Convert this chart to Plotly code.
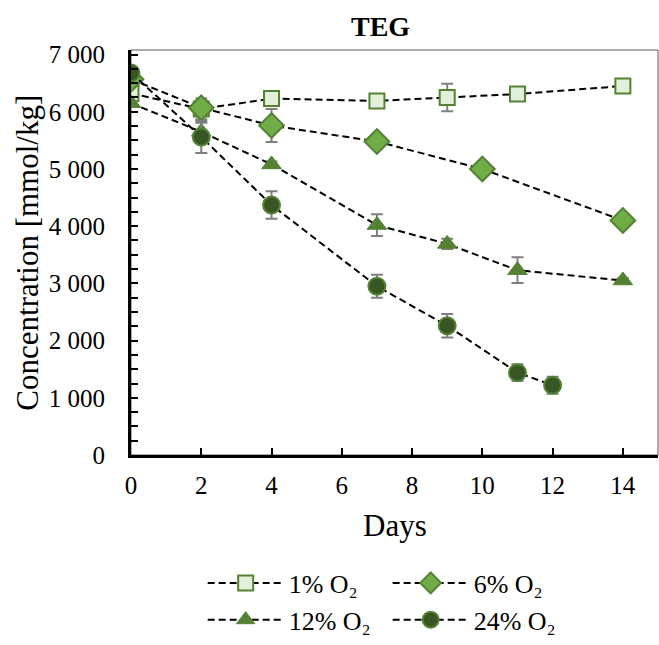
import plotly.graph_objects as go

names = ["1% O₂", "6% O₂", "12% O₂", "24% O₂"]

days_1 = [0, 2, 4, 7, 9, 11, 14]
conc_1 = [6320, 6050, 6230, 6190, 6250, 6310, 6450]
err_1 = [40, 180, 60, 40, 240, 40, 40]

days_6 = [0, 2, 4, 7, 10, 14]
conc_6 = [6570, 6070, 5760, 5480, 5000, 4100]
err_6 = [60, 60, 290, 120, 40, 60]

days_12 = [0, 2, 4, 7, 9, 11, 14]
conc_12 = [6150, 5650, 5080, 4020, 3690, 3230, 3050]
err_12 = [40, 160, 50, 190, 90, 225, 40]

days_24 = [0, 2, 4, 7, 9, 11, 12]
conc_24 = [6680, 5560, 4370, 2950, 2260, 1440, 1220]
err_24 = [60, 280, 240, 200, 205, 145, 150]

styles = [
    dict(symbol="square", size=15, color="#e2efda", line=dict(color="#548235", width=2)),
    dict(symbol="diamond", size=19, color="#70ad47", line=dict(color="#548235", width=2)),
    dict(symbol="triangle-up", size=17, color="#548235", line=dict(color="#548235", width=1)),
    dict(symbol="circle", size=17, color="#375623", line=dict(color="#548235", width=2)),
]

series = [(days_1, conc_1, err_1), (days_6, conc_6, err_6),
          (days_12, conc_12, err_12), (days_24, conc_24, err_24)]

FONT = "Liberation Serif"
fig = go.Figure()
for name, (x, y, e), mk in zip(names, series, styles):
    fig.add_trace(go.Scatter(
        x=x, y=y, name=name, mode="lines+markers",
        line=dict(color="black", width=2, dash="7px,4px"),
        marker=mk,
        error_y=dict(type="data", array=e, visible=True, color="#7f7f7f", thickness=2, width=6),
    ))

fig.update_layout(
    width=659, height=645,
    margin=dict(l=131, r=1, t=50, b=180),
    plot_bgcolor="white", paper_bgcolor="white",
    font=dict(family=FONT, size=25, color="black"),
    separators=". ",
    showlegend=True,
    legend=dict(orientation="h", x=0.136, xanchor="left", y=-0.258, yanchor="top",
                entrywidth=94, entrywidthmode="pixels", itemwidth=76,
                font=dict(family=FONT, size=26), tracegroupgap=0, bgcolor="rgba(0,0,0,0)"),
    annotations=[
        dict(text="<b>TEG</b>", x=0.474, y=1.0, xref="paper", yref="paper",
             xanchor="center", yanchor="bottom", yshift=6, showarrow=False,
             font=dict(family=FONT, size=28)),
        dict(text="Concentration [mmol/kg]", x=-0.197, y=0.5, xref="paper", yref="paper",
             xanchor="center", yanchor="middle", textangle=-90, showarrow=False,
             font=dict(family=FONT, size=31)),
        dict(text="Days", x=0.5, y=-0.1735, xref="paper", yref="paper",
             xanchor="center", yanchor="middle", showarrow=False,
             font=dict(family=FONT, size=31)),
    ],
    shapes=[dict(type="rect", xref="paper", yref="paper", x0=0, y0=0, x1=1, y1=1,
                 line=dict(color="#595959", width=1), layer="below")],
)

fig.update_xaxes(range=[0, 15], tick0=0, dtick=2, ticks="inside", ticklen=7, tickwidth=2,
                 tickcolor="black", showline=True, linecolor="black", linewidth=3,
                 showgrid=False, zeroline=False, automargin=False,
                 tickfont=dict(family=FONT, size=25), ticklabelstandoff=6)
fig.update_yaxes(range=[0, 7080], tick0=0, dtick=1000, ticks="inside", ticklen=7, tickwidth=2,
                 tickcolor="black", showline=True, linecolor="black", linewidth=3,
                 showgrid=False, zeroline=False, tickformat=",d", automargin=False,
                 minor=dict(dtick=250, ticks="inside", ticklen=7, tickwidth=2, tickcolor="black", showgrid=False),
                 tickfont=dict(family=FONT, size=25), ticklabelstandoff=18)

fig.write_html(
    "out.html",
    config={"displayModeBar": False},
    post_script=("document.body.style.margin='0';"
                 "document.body.style.overflow='hidden';"
                 "document.documentElement.style.overflow='hidden';"),
)
